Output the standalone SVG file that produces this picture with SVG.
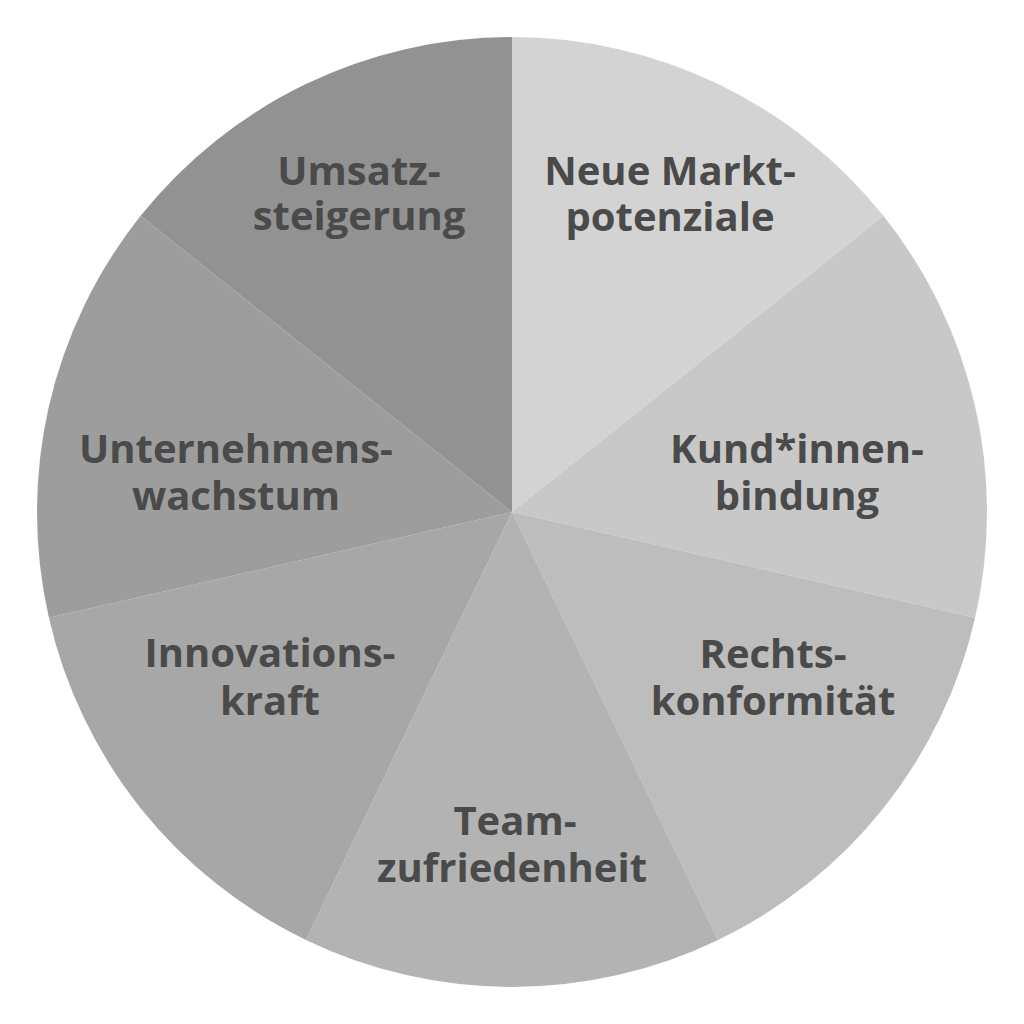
<svg xmlns="http://www.w3.org/2000/svg" width="1024" height="1024" viewBox="0 0 1024 1024">
<style>
.lbl{font-family:"Open Sans","Noto Sans","Liberation Sans",sans-serif;font-weight:700;font-size:40px;fill:#4a4a4a;text-anchor:middle}
</style>
<rect width="1024" height="1024" fill="#ffffff"/>
<g id="slice-neue-marktpotenziale">
<path d="M512,512 L512,37 A475,475 0 0 1 883.37,215.84 Z" fill="#d3d3d3"/>
<text class="lbl"><tspan x="670" y="185">Neue Markt-</tspan><tspan x="670" y="231">potenziale</tspan></text>
</g>
<g id="slice-kundinnenbindung">
<path d="M512,512 L883.37,215.84 A475,475 0 0 1 975.09,617.70 Z" fill="#c8c8c8"/>
<text class="lbl"><tspan x="797" y="463">Kund*innen-</tspan><tspan x="797" y="510">bindung</tspan></text>
</g>
<g id="slice-rechtskonformitaet">
<path d="M512,512 L975.09,617.70 A475,475 0 0 1 718.09,939.96 Z" fill="#bdbdbd"/>
<text class="lbl"><tspan x="773" y="668">Rechts-</tspan><tspan x="773" y="715">konformität</tspan></text>
</g>
<g id="slice-teamzufriedenheit">
<path d="M512,512 L718.09,939.96 A475,475 0 0 1 305.91,939.96 Z" fill="#b3b3b3"/>
<text class="lbl"><tspan x="515" y="835">Team-</tspan><tspan x="512" y="882">zufriedenheit</tspan></text>
</g>
<g id="slice-innovationskraft">
<path d="M512,512 L305.91,939.96 A475,475 0 0 1 48.91,617.70 Z" fill="#a7a7a7"/>
<text class="lbl"><tspan x="270" y="667">Innovations-</tspan><tspan x="270" y="715">kraft</tspan></text>
</g>
<g id="slice-unternehmenswachstum">
<path d="M512,512 L48.91,617.70 A475,475 0 0 1 140.63,215.84 Z" fill="#9d9d9d"/>
<text class="lbl"><tspan x="236" y="463">Unternehmens-</tspan><tspan x="236" y="510">wachstum</tspan></text>
</g>
<g id="slice-umsatzsteigerung">
<path d="M512,512 L140.63,215.84 A475,475 0 0 1 512,37 Z" fill="#929292"/>
<text class="lbl"><tspan x="359" y="185">Umsatz-</tspan><tspan x="359" y="230">steigerung</tspan></text>
</g>
</svg>
